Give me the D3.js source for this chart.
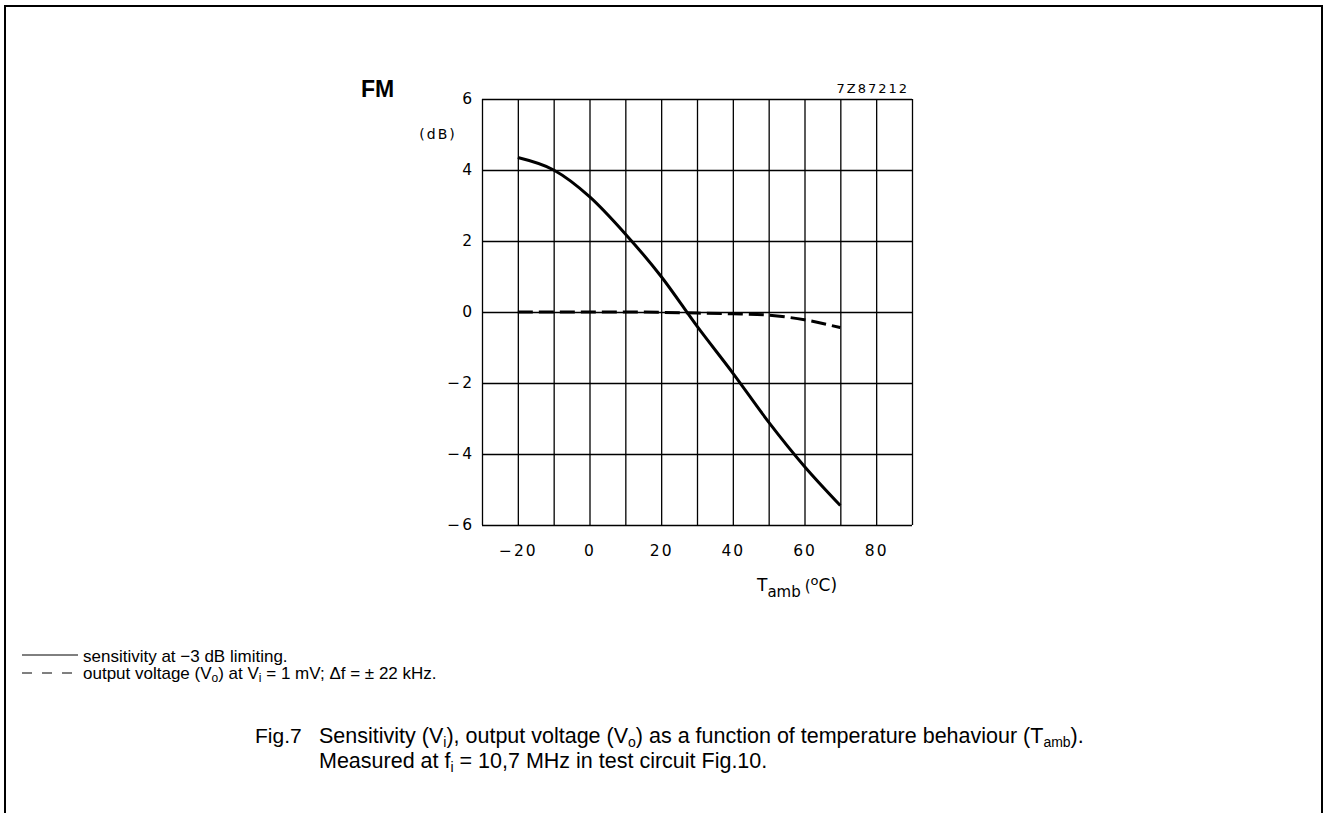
<!DOCTYPE html>
<html>
<head>
<meta charset="utf-8">
<script src="https://cdn.jsdelivr.net/npm/d3@7"></script>
<style>
  body { margin: 0; background: #fff; }
  svg { display: block; }
  .grid line { stroke: #000; stroke-width: 1.3; }
  .grid path { display: none; }
  .lbl text { font-family: "DejaVu Sans", sans-serif; font-size: 15.5px; letter-spacing: 2px; fill: #000; }
  .lbl line, .lbl path { display: none; }
</style>
</head>
<body>
<div id="chart"></div>
<script>
// temperatures (deg C) and values (dB)
var temps = [-20, -10, 0, 10, 20, 30, 40, 50, 60, 70];
var sensitivity = [4.35, 4.0, 3.25, 2.2, 1.0, -0.4, -1.72, -3.1, -4.35, -5.45];
var outputVoltage = [0, 0, 0, 0, -0.01, -0.03, -0.05, -0.09, -0.22, -0.44];
var xTickLabels = [-20, 0, 20, 40, 60, 80];
var yTickLabels = [-6, -4, -2, 0, 2, 4, 6];

var width = 1326, height = 813;
var svg = d3.select("#chart").append("svg").attr("width", width).attr("height", height);

// frame
svg.append("path")
    .attr("d", "M5,820 L5,6 L1322,6 L1322,820")
    .attr("fill", "none").attr("stroke", "#000").attr("stroke-width", 2);

var x = d3.scaleLinear().domain([-30, 90]).range([482, 912]);
var y = d3.scaleLinear().domain([-6, 6]).range([525, 99]);

// grid (every 10 deg / 2 dB)
svg.append("g").attr("class", "grid")
    .attr("transform", "translate(0,525)")
    .call(d3.axisBottom(x).tickValues(d3.range(-30, 91, 10)).tickSize(-426).tickFormat(""));
svg.append("g").attr("class", "grid")
    .attr("transform", "translate(482,0)")
    .call(d3.axisLeft(y).tickValues(d3.range(-6, 7, 2)).tickSize(-430).tickFormat(""));

var minus = function (d) { return d < 0 ? "\u2212" + Math.abs(d) : "" + d; };

svg.append("g").attr("class", "lbl")
    .attr("transform", "translate(0,525)")
    .call(d3.axisBottom(x).tickValues(xTickLabels).tickSize(0).tickPadding(20).tickFormat(minus));
svg.append("g").attr("class", "lbl")
    .attr("transform", "translate(482,0)")
    .call(d3.axisLeft(y).tickValues(yTickLabels).tickSize(0).tickPadding(8).tickFormat(minus));

// curves
var line = d3.line()
    .x(function (d) { return x(d[0]); })
    .y(function (d) { return y(d[1]); })
    .curve(d3.curveMonotoneX);

svg.append("path")
    .attr("d", line(d3.zip(temps, sensitivity)))
    .attr("fill", "none").attr("stroke", "#000").attr("stroke-width", 3);
svg.append("path")
    .attr("d", line(d3.zip(temps, outputVoltage)))
    .attr("fill", "none").attr("stroke", "#000").attr("stroke-width", 3)
    .attr("stroke-dasharray", "15,6");

// chart labels
svg.append("text").attr("x", 361).attr("y", 97)
    .attr("font-family", "Liberation Sans, Arial, sans-serif").attr("font-weight", "bold")
    .attr("font-size", 23).text("FM");
svg.append("text").attr("x", 438).attr("y", 139).attr("text-anchor", "middle")
    .attr("font-family", "DejaVu Sans, sans-serif").attr("font-size", 14)
    .attr("letter-spacing", 2).text("(dB)");
svg.append("text").attr("x", 909).attr("y", 93).attr("text-anchor", "end")
    .attr("font-family", "DejaVu Sans, sans-serif").attr("font-size", 13)
    .attr("letter-spacing", 2).text("7Z87212");

var xl = svg.append("text").attr("x", 757).attr("y", 591)
    .attr("font-family", "DejaVu Sans, sans-serif").attr("font-size", 17);
xl.append("tspan").text("T");
xl.append("tspan").attr("dy", 6).attr("font-size", 15).text("amb");
xl.append("tspan").attr("dy", -6).attr("dx", 4).attr("font-size", 15).text("(");
xl.append("tspan").attr("dy", -6).attr("font-size", 13).text("o");
xl.append("tspan").attr("dy", 6).text("C)");

// legend
var sans = "Liberation Sans, Arial, sans-serif";
svg.append("line").attr("x1", 22).attr("x2", 78).attr("y1", 655).attr("y2", 655)
    .attr("stroke", "#000").attr("stroke-width", 1);
svg.append("text").attr("x", 83).attr("y", 662).attr("font-family", sans).attr("font-size", 17)
    .text("sensitivity at \u22123 dB limiting.");
svg.append("line").attr("x1", 22).attr("x2", 72).attr("y1", 673).attr("y2", 673)
    .attr("stroke", "#000").attr("stroke-width", 1).attr("stroke-dasharray", "10,10");
var l2 = svg.append("text").attr("x", 83).attr("y", 679).attr("font-family", sans).attr("font-size", 17);
l2.append("tspan").text("output voltage (V");
l2.append("tspan").attr("dy", 3).attr("font-size", 12).text("o");
l2.append("tspan").attr("dy", -3).text(") at V");
l2.append("tspan").attr("dy", 3).attr("font-size", 12).text("i");
l2.append("tspan").attr("dy", -3).text(" = 1 mV; \u0394f = \u00b1 22 kHz.");

// caption
svg.append("text").attr("x", 255).attr("y", 743).attr("font-family", sans).attr("font-size", 21).text("Fig.7");
var c1 = svg.append("text").attr("x", 319).attr("y", 743).attr("font-family", sans).attr("font-size", 21.5);
c1.append("tspan").text("Sensitivity (V");
c1.append("tspan").attr("dy", 4).attr("font-size", 14).text("i");
c1.append("tspan").attr("dy", -4).text("), output voltage (V");
c1.append("tspan").attr("dy", 4).attr("font-size", 14).text("o");
c1.append("tspan").attr("dy", -4).text(") as a function of temperature behaviour (T");
c1.append("tspan").attr("dy", 4).attr("font-size", 14).text("amb");
c1.append("tspan").attr("dy", -4).text(").");
var c2 = svg.append("text").attr("x", 319).attr("y", 768).attr("font-family", sans).attr("font-size", 21.5);
c2.append("tspan").text("Measured at f");
c2.append("tspan").attr("dy", 4).attr("font-size", 14).text("i");
c2.append("tspan").attr("dy", -4).text(" = 10,7 MHz in test circuit Fig.10.");
</script>
</body>
</html>
